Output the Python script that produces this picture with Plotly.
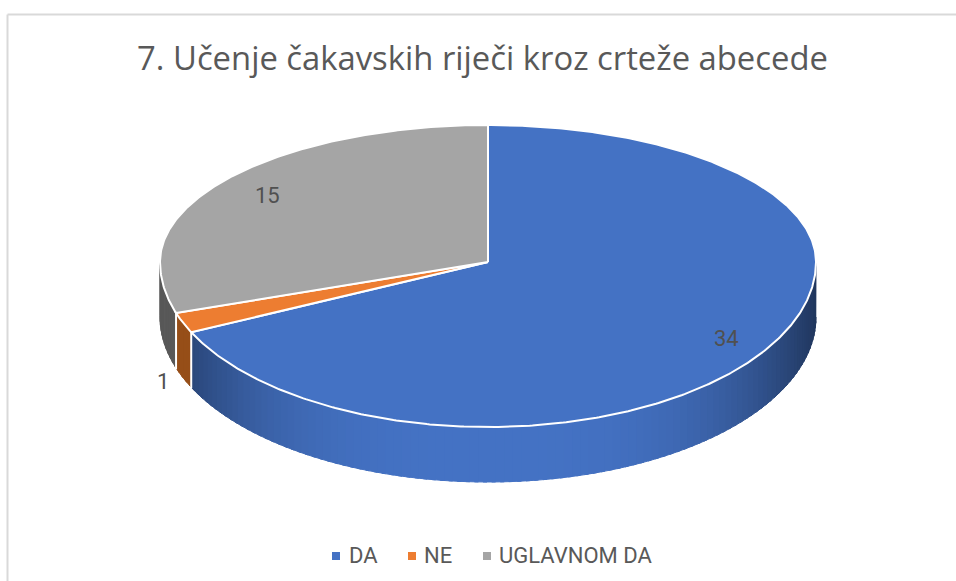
import math
import plotly.graph_objects as go

title_text = "7. Učenje čakavskih riječi kroz crteže abecede"
categories = ["DA", "NE", "UGLAVNOM DA"]
values = [34, 1, 15]
top_colors = ["#4472C4", "#ED7D31", "#A5A5A5"]
side_bases = [(68, 114, 196), (150, 78, 24), (100, 100, 100)]
label_radius = [0.86, 1.065, 0.83]
label_on_side = [False, True, False]
legend_marker_x = [336, 412, 487]
legend_text_x = [349, 424, 499]

W, H = 956, 581
CX, CY, RX, RY_UP, RY_DOWN, DEPTH = 488, 262, 328, 137, 165, 55
LEGEND_Y = 556


def pt(a, dz=0.0, r=1.0):
    s, c = math.sin(a), math.cos(a)
    return CX + RX * r * s, CY - (RY_UP if c > 0 else RY_DOWN) * r * c + dz


def arc(a0, a1, dz=0.0):
    n = max(2, int(abs(a1 - a0) / math.radians(0.5)))
    return [pt(a0 + (a1 - a0) * i / n, dz) for i in range(n + 1)]


def poly(points, fill, line=None, width=0.0):
    xs = [p[0] for p in points]
    ys = [p[1] for p in points]
    return go.Scatter(x=xs, y=ys, mode="lines", fill="toself", fillcolor=fill,
                      line=dict(color=line or fill, width=width),
                      hoverinfo="skip", showlegend=False)


fig = go.Figure()
total = sum(values)
edges = [0.0]
for v in values:
    edges.append(edges[-1] + v / total * 2 * math.pi)

# side walls (front half only), shaded by distance from the centre
for i in range(len(values)):
    a0 = max(edges[i], math.pi / 2)
    a1 = min(edges[i + 1], 3 * math.pi / 2)
    if a1 <= a0:
        continue
    step = math.radians(1.5)
    n = max(1, int((a1 - a0) / step))
    for k in range(n):
        b0 = a0 + (a1 - a0) * k / n
        b1 = a0 + (a1 - a0) * (k + 1) / n
        t = abs(math.sin((b0 + b1) / 2))
        if i == 0:
            f = 1 - 0.52 * t ** 3.2
        elif i == 2:
            f = 1 - 0.12 * t
        else:
            f = 1.0
        col = "rgb(%d,%d,%d)" % tuple(round(c * f) for c in side_bases[i])
        fig.add_trace(poly(arc(b0, b1 + 0.012) + arc(b1 + 0.012, b0, DEPTH), col, col, 1.0))
    # white separators between walls
    if i > 0:
        x0, y0 = pt(edges[i])
        x1, y1 = pt(edges[i], DEPTH + 1)
        fig.add_trace(go.Scatter(x=[x0, x1], y=[y0, y1], mode="lines",
                                 line=dict(color="white", width=2),
                                 hoverinfo="skip", showlegend=False))

# top faces
for i in range(len(values)):
    pts = [(CX, CY)] + arc(edges[i], edges[i + 1]) + [(CX, CY)]
    fig.add_trace(poly(pts, top_colors[i], "white", 2))

# value labels
for i, v in enumerate(values):
    mid = (edges[i] + edges[i + 1]) / 2
    x, y = pt(mid, DEPTH if label_on_side[i] else 0, label_radius[i])
    fig.add_annotation(x=x, y=y, text=str(v), showarrow=False,
                       font=dict(family="Roboto", size=22, color="#505050"))

# legend entries
for c, col, mx, tx in zip(categories, top_colors, legend_marker_x, legend_text_x):
    fig.add_trace(go.Scatter(x=[mx], y=[LEGEND_Y], mode="markers", name=c,
                             marker=dict(symbol="square", size=8, color=col, line=dict(width=0)),
                             hoverinfo="skip", showlegend=False))
    fig.add_annotation(x=tx, y=LEGEND_Y - 1, text=c, showarrow=False, xanchor="left", xshift=-2,
                       font=dict(family="Roboto", size=22, color="#595959"))

fig.update_layout(
    width=W, height=H,
    margin=dict(l=0, r=0, t=0, b=0),
    paper_bgcolor="white", plot_bgcolor="white",
    showlegend=False,
    xaxis=dict(range=[0, W], visible=False, fixedrange=True),
    yaxis=dict(range=[H, 0], visible=False, fixedrange=True),
    title=dict(text=title_text, x=482.5 / W, xanchor="center", y=1 - 59 / H, yanchor="middle",
               font=dict(family="Open Sans", size=32.8, color="#595959")),
    shapes=[
        dict(type="line", xref="paper", yref="paper", x0=7.5 / W, x1=1, y0=1 - 14.5 / H, y1=1 - 14.5 / H,
             line=dict(color="#D9D9D9", width=2)),
        dict(type="line", xref="paper", yref="paper", x0=7.5 / W, x1=7.5 / W, y0=1 - 14.5 / H, y1=0,
             line=dict(color="#D9D9D9", width=2)),
    ],
)
fig.write_html("out.html", config={"displayModeBar": False},
               post_script="document.body.style.margin='0';document.body.style.overflow='hidden';")
